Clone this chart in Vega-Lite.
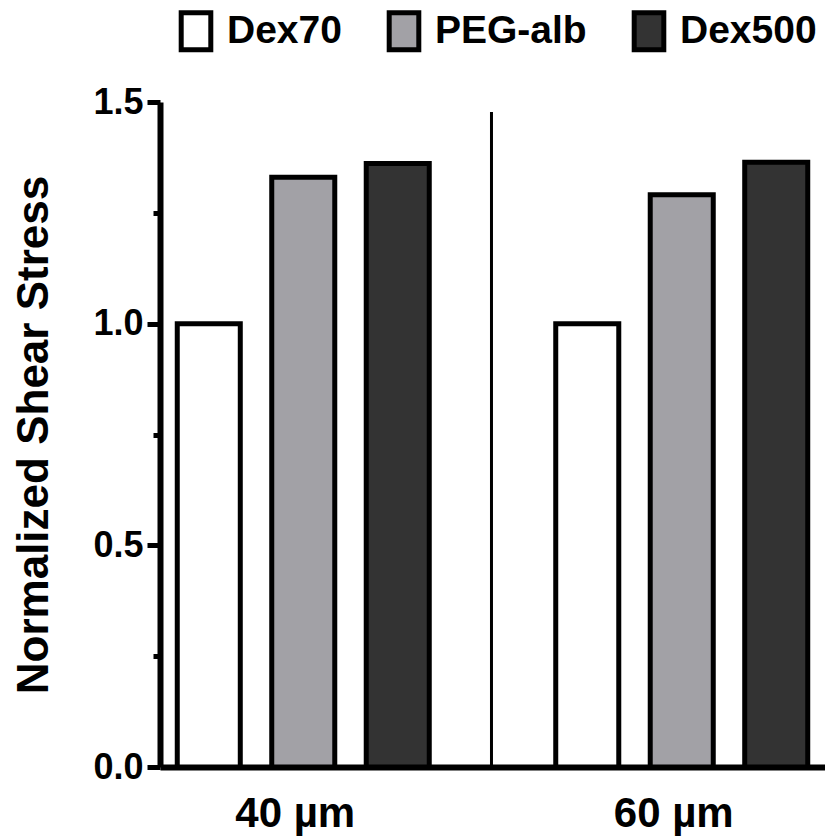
{
  "$schema": "https://vega.github.io/schema/vega-lite/v6.json",
  "width": 665,
  "height": 665,
  "autosize": {"type": "none"},
  "padding": {"left": 160, "top": 102, "right": 0, "bottom": 71},
  "background": "white",
  "config": {
    "view": {"stroke": null},
    "font": "Liberation Sans"
  },
  "datasets": {
    "bars": [
      {"size": "40 µm", "solution": "Dex70", "value": 1.0},
      {"size": "40 µm", "solution": "PEG-alb", "value": 1.33},
      {"size": "40 µm", "solution": "Dex500", "value": 1.361},
      {"size": "60 µm", "solution": "Dex70", "value": 1.0},
      {"size": "60 µm", "solution": "PEG-alb", "value": 1.291},
      {"size": "60 µm", "solution": "Dex500", "value": 1.364}
    ],
    "divider": [
      {"size": "60 µm", "bottom": 0, "top": 1.4775}
    ]
  },
  "layer": [
    {
      "data": {"name": "bars"},
      "mark": {"type": "bar", "stroke": "black", "strokeWidth": 5, "strokeJoin": "miter"},
      "encoding": {
        "x": {
          "field": "size", "type": "nominal",
          "scale": {"domain": ["40 µm", "60 µm"], "paddingInner": 0.3342, "paddingOuter": 0.0456},
          "axis": {
            "title": null, "labelAngle": 0, "ticks": false,
            "domainColor": "black", "domainWidth": 6,
            "labelFont": "Liberation Sans", "labelFontWeight": "bold", "labelFontSize": 42,
            "labelColor": "black", "labelPadding": 26, "labelOffset": -8
          }
        },
        "xOffset": {
          "field": "solution", "type": "nominal",
          "scale": {"domain": ["Dex70", "PEG-alb", "Dex500"], "paddingInner": 0.333, "paddingOuter": 0}
        },
        "y": {
          "field": "value", "type": "quantitative",
          "scale": {"domain": [0, 1.5], "nice": false},
          "axis": {
            "title": "Normalized Shear Stress",
            "titleFont": "Liberation Sans", "titleFontWeight": "bold", "titleFontSize": 44,
            "titleColor": "black", "titlePadding": 36,
            "values": [0, 0.25, 0.5, 0.75, 1, 1.25, 1.5],
            "labelExpr": "datum.value % 0.5 ? '' : format(datum.value, '.1f')",
            "grid": false,
            "domainColor": "black", "domainWidth": 6,
            "tickColor": "black", "tickWidth": 5,
            "tickSize": {"condition": {"test": "datum.value % 0.5 != 0", "value": 7}, "value": 13},
            "labelFont": "Liberation Sans", "labelFontWeight": "bold", "labelFontSize": 36,
            "labelColor": "black", "labelPadding": 4
          }
        },
        "fill": {
          "field": "solution", "type": "nominal",
          "scale": {"domain": ["Dex70", "PEG-alb", "Dex500"], "range": ["#ffffff", "#a2a1a6", "#333333"]},
          "legend": {
            "title": null, "orient": "none", "direction": "horizontal",
            "legendX": 15, "legendY": -92,
            "symbolType": "M-0.8,-1H0.8V1H-0.8Z",
            "symbolSize": 1369,
            "symbolStrokeColor": "black", "symbolStrokeWidth": 5,
            "symbolOpacity": 1,
            "labelFont": "Liberation Sans", "labelFontWeight": "bold", "labelFontSize": 39,
            "labelColor": "black", "labelOffset": 10, "columnPadding": 37,
            "labelLimit": 400
          }
        }
      }
    },
    {
      "data": {"name": "divider"},
      "mark": {"type": "rule", "color": "black", "strokeWidth": 3},
      "encoding": {
        "x": {"field": "size", "type": "nominal", "bandPosition": -0.255},
        "y": {"field": "bottom", "type": "quantitative"},
        "y2": {"field": "top"}
      }
    }
  ]
}
